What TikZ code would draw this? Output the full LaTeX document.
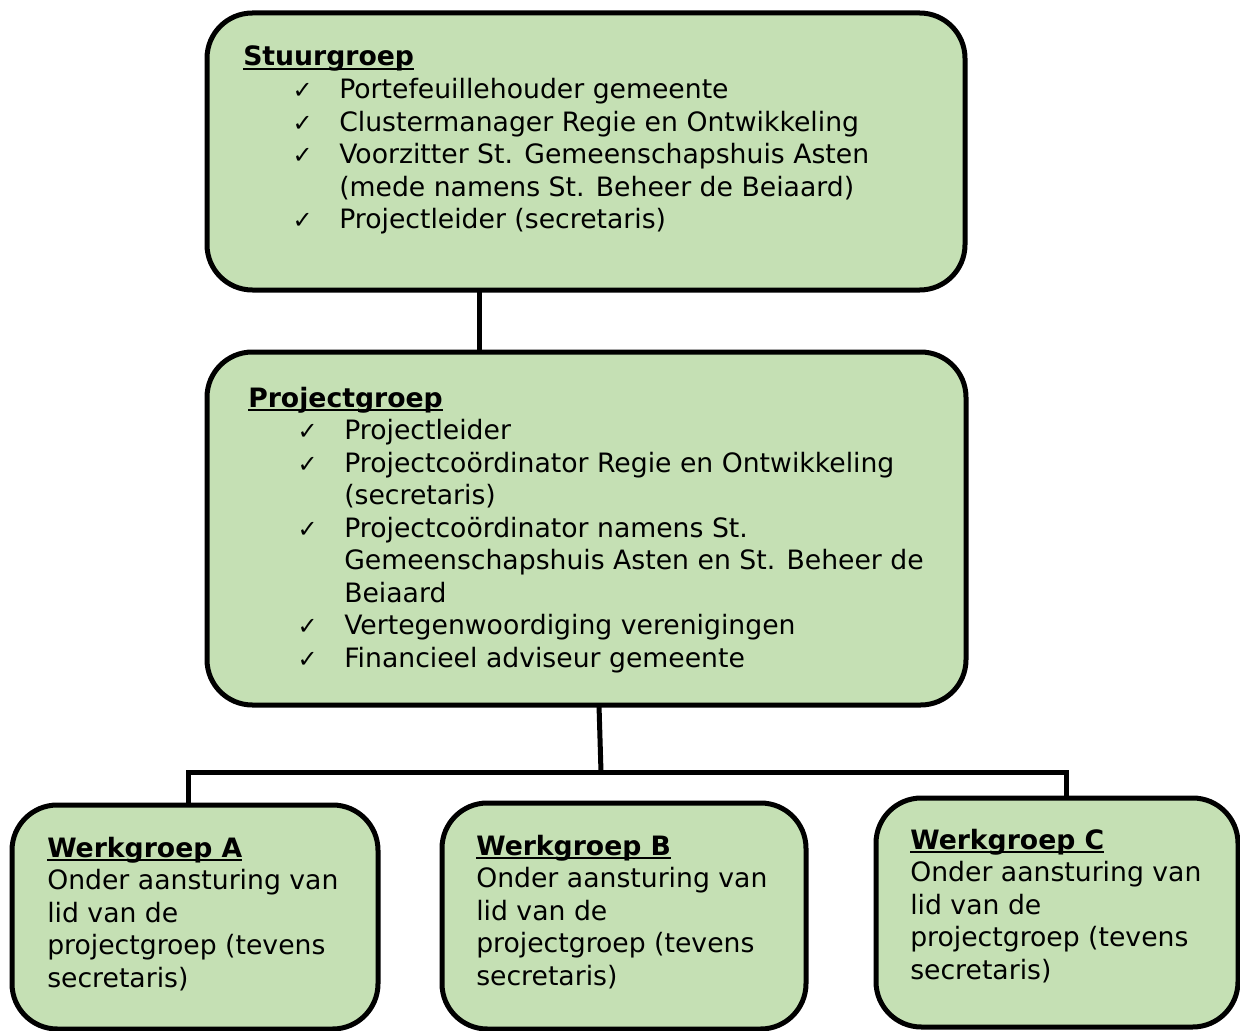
\documentclass[tikz,border=0pt]{standalone}
\usepackage{fontspec}
\setmainfont{DejaVu Sans}
\usepackage{xcolor}
\usetikzlibrary{
	positioning,    % relatieve plaatsing
	calc            % verschuivingen t.o.v. hoeken
}
\definecolor{groepgroen}{HTML}{C5E0B4}

% kop met onderstreping, vinkje-regel en vervolgregel
\newcommand{\kop}[1]{\setbox0\hbox{\bfseries #1}\rlap{\rule[-3pt]{\wd0}{1.5pt}}\box0}
\newcommand{\vink}[1]{\hspace*{37pt}\makebox[35pt][l]{\fontsize{18}{18}\selectfont ✓}#1}
\newcommand{\verder}[1]{\hspace*{72pt}#1}

\tikzset{
	groep/.style={draw, line width=3.75pt, fill=groepgroen, rounded corners=34pt,
		inner sep=0pt, outer sep=0pt},
	lijn/.style={line width=3.75pt},
	tekst/.style={anchor=base west, inner sep=0pt, font=\fontsize{20}{24.4}\selectfont}
}

\begin{document}
\begin{tikzpicture}[x=0.75pt, y=-0.75pt]
		\useasboundingbox (0,0) rectangle (1240,1031);
		\clip (0,0) rectangle (1240,1031);
		
		% --- Blokken ---
		\node[groep, minimum width=568.5pt, minimum height=207.75pt] (stuur) at (586,151.5) {};
		\node[groep, minimum width=569.25pt, minimum height=264.75pt] (proj) at (586.5,528.5) {};
		\node[groep, minimum width=274.5pt, minimum height=168pt] (wgA) at (195,917) {};
		\node[groep, minimum width=273pt, minimum height=169.5pt] (wgB) at (624,916) {};
		\node[groep, minimum width=271.5pt, minimum height=171.75pt] (wgC) at (1057,912.5) {};
		
		% --- Verbindingen ---
		\draw[lijn] ($(stuur.south west)+(272,0)$) -- ($(proj.north west)+(272,0)$);
		\coordinate (splitsing) at ($(proj.south west)+(394,67)$);
		\draw[lijn] ($(proj.south west)+(392,0)$) -- (splitsing);
		\draw[lijn] ($(wgA.north west)+(176,0)$) |- (splitsing) -| ($(wgC.north west)+(190,0)$);
		
		% --- Teksten ---
		\node[tekst] (stuurtekst) at (243,66) {\begin{tabular}[t]{@{}l@{}}
			\kop{Stuurgroep}\\
			\vink{Portefeuillehouder gemeente}\\
			\vink{Clustermanager Regie en Ontwikkeling}\\
			\vink{Voorzitter St. Gemeenschapshuis Asten}\\
			\verder{(mede namens St. Beheer de Beiaard)}\\
			\vink{Projectleider (secretaris)}
		\end{tabular}};
		\node[tekst] (projtekst) at (248,407) {\begin{tabular}[t]{@{}l@{}}
			\kop{Projectgroep}\\
			\vink{Projectleider}\\
			\vink{Projectcoördinator Regie en Ontwikkeling}\\
			\verder{(secretaris)}\\
			\vink{Projectcoördinator namens St.}\\
			\verder{Gemeenschapshuis Asten en St. Beheer de}\\
			\verder{Beiaard}\\
			\vink{Vertegenwoordiging verenigingen}\\
			\vink{Financieel adviseur gemeente}
		\end{tabular}};
		\foreach \wg/\x/\y in {A/47/857, B/476/855, C/910/849}
		\node[tekst] (tekst\wg) at (\x,\y) {\begin{tabular}[t]{@{}l@{}}
			\kop{Werkgroep \wg}\\
			Onder aansturing van\\
			lid van de\\
			projectgroep (tevens\\
			secretaris)
		\end{tabular}};
\end{tikzpicture}
\end{document}
